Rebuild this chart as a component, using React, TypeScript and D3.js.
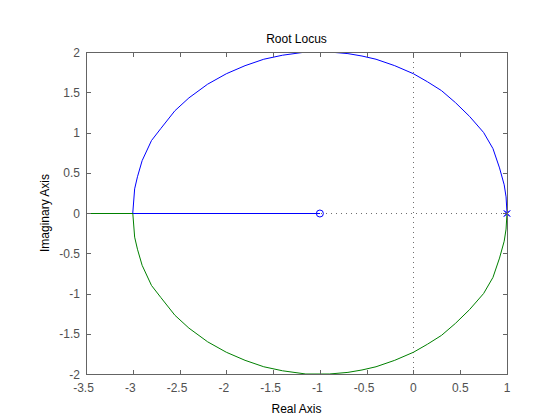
import React from "react";
import * as d3 from "d3";

const xTicks = [-3.5, -3, -2.5, -2, -1.5, -1, -0.5, 0, 0.5, 1];
const yTicks = [-2, -1.5, -1, -0.5, 0, 0.5, 1, 1.5, 2];
const xTickLabels = ["-3.5", "-3", "-2.5", "-2", "-1.5", "-1", "-0.5", "0", "0.5", "1"];
const yTickLabels = ["-2", "-1.5", "-1", "-0.5", "0", "0.5", "1", "1.5", "2"];

// upper branch from pole at 1 to breakaway at -3
const upperRe = [1, 0.99, 0.97, 0.92, 0.85, 0.75, 0.6, 0.45, 0.3, 0.15, 0, -0.2, -0.4, -0.55, -0.7, -0.9, -1.15, -1.4, -1.6, -1.8, -2.0, -2.2, -2.4, -2.55, -2.7, -2.8, -2.9, -2.95, -2.98, -3];
const upperIm = [0, 0.2, 0.35, 0.56, 0.8, 1.0, 1.2, 1.37, 1.52, 1.63, 1.73, 1.83, 1.91, 1.95, 1.98, 2.0, 2.0, 1.96, 1.91, 1.83, 1.73, 1.6, 1.43, 1.27, 1.05, 0.9, 0.65, 0.45, 0.3, 0];
// real-axis segments after breakaway
const blueRealRe = [-3, -1];
const greenRealRe = [-3, -3.6];
const poles = [1, 1];
const zeros = [-1];

const W = 560, H = 420;
const L = 86, R = 507, T = 52, B = 374;

export default function App() {
  const x = d3.scaleLinear().domain([-3.5, 1]).range([L, R]);
  const y = d3.scaleLinear().domain([-2, 2]).range([B, T]);
  const line = d3.line<[number, number]>().x(d => x(d[0])).y(d => y(d[1]));
  const upper: [number, number][] = upperRe.map((r, i) => [r, upperIm[i]]);
  const lower: [number, number][] = upperRe.map((r, i) => [r, -upperIm[i]]);
  const blueReal: [number, number][] = blueRealRe.map(r => [r, 0]);
  const greenReal: [number, number][] = greenRealRe.map(r => [r, 0]);
  const axisCol = "#646464";
  const font = "'Liberation Sans', Arial, Helvetica, sans-serif";
  const tl = 4.5;
  const y0 = Math.round(y(0)) + 0.5;
  const xz = Math.round(x(0)) + 0.5;
  return (
    <svg width={W} height={H} style={{ position: "absolute", left: 0, top: 0, background: "#fff" }}>
      <rect x={0} y={0} width={W} height={H} fill="#fff" />
      <defs>
        <clipPath id="clip"><rect x={L} y={T} width={R - L} height={B - T} /></clipPath>
      </defs>
      {/* dotted reference lines */}
      <line x1={xz} x2={xz} y1={T} y2={B} stroke="#6e6e6e" strokeWidth={1} strokeDasharray="1,4" shapeRendering="crispEdges" />
      <line x1={L} x2={R} y1={y0} y2={y0} stroke="#6e6e6e" strokeWidth={1} strokeDasharray="1,4" shapeRendering="crispEdges" />
      <g clipPath="url(#clip)" fill="none" strokeWidth={1}>
        <path d={line(lower) || ""} stroke="#008000" />
        <path d={line(greenReal) || ""} stroke="#008000" transform="translate(0,0.5)" shapeRendering="crispEdges" />
        <path d={line(upper) || ""} stroke="#0000ff" />
        <path d={line(blueReal) || ""} stroke="#0000ff" transform="translate(0,0.5)" shapeRendering="crispEdges" />
      </g>
      {zeros.map((z, i) => (
        <circle key={"z" + i} cx={x(z)} cy={y0} r={3.5} fill="none" stroke="#0000ff" strokeWidth={1} />
      ))}
      {poles.map((p, i) => (
        <g key={"p" + i} stroke="#0000ff" strokeWidth={1}>
          <line x1={x(p) - 3} x2={x(p) + 3} y1={y0 - 3} y2={y0 + 3} />
          <line x1={x(p) - 3} x2={x(p) + 3} y1={y0 + 3} y2={y0 - 3} />
        </g>
      ))}
      {/* box */}
      <rect x={L + 0.5} y={T + 0.5} width={R - L} height={B - T} fill="none" stroke={axisCol} strokeWidth={1} shapeRendering="crispEdges" />
      {xTicks.map((t, i) => {
        const px = Math.round(x(t)) + 0.5;
        return (
          <g key={"xt" + i}>
            <line x1={px} x2={px} y1={B} y2={B - tl} stroke={axisCol} shapeRendering="crispEdges" />
            <line x1={px} x2={px} y1={T} y2={T + tl} stroke={axisCol} shapeRendering="crispEdges" />
            <text x={x(t) - (t < 0 ? 2.5 : 0)} y={B + 18} textAnchor="middle" fontSize={12} fill="#505050" fontFamily={font}>{xTickLabels[i]}</text>
          </g>
        );
      })}
      {yTicks.map((t, i) => {
        const py = Math.round(y(t)) + 0.5;
        return (
          <g key={"yt" + i}>
            <line x1={L} x2={L + tl} y1={py} y2={py} stroke={axisCol} shapeRendering="crispEdges" />
            <line x1={R} x2={R - tl} y1={py} y2={py} stroke={axisCol} shapeRendering="crispEdges" />
            <text x={L - 6} y={y(t) + 4.5} textAnchor="end" fontSize={12} fill="#505050" fontFamily={font}>{yTickLabels[i]}</text>
          </g>
        );
      })}
      <text x={(L + R) / 2} y={43} textAnchor="middle" fontSize={12} fill="#000" fontFamily={font}>Root Locus</text>
      <text x={(L + R) / 2} y={413} textAnchor="middle" fontSize={12} fill="#000" fontFamily={font}>Real Axis</text>
      <text transform={`translate(49, ${(T + B) / 2}) rotate(-90)`} textAnchor="middle" fontSize={12} fill="#000" fontFamily={font}>Imaginary Axis</text>
    </svg>
  );
}
